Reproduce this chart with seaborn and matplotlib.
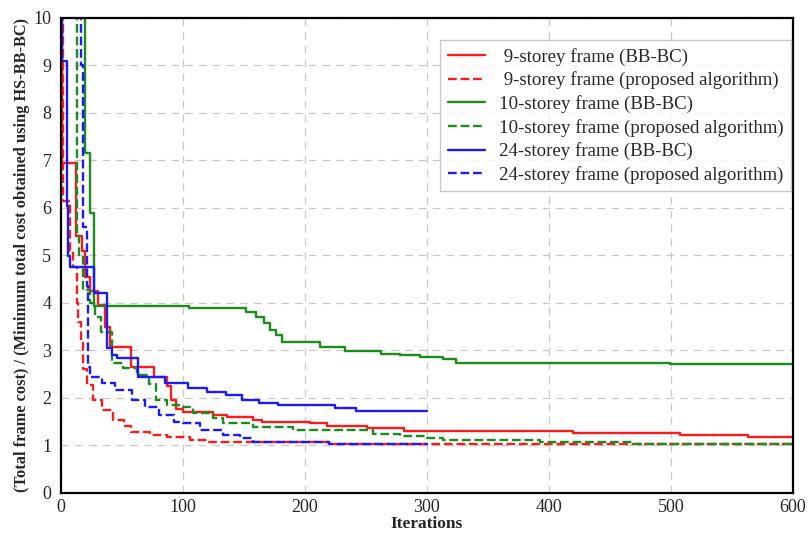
import matplotlib
matplotlib.use("Agg")
import matplotlib.pyplot as plt
import seaborn as sns
import pandas as pd

# iteration where each step starts, and the cost ratio from there on
x_9_bbbc = [0, 1, 12, 17, 20, 24, 30, 36, 40, 57, 76, 87, 90, 94, 100, 125, 136, 157, 165, 204, 218, 251, 281, 420, 507, 563, 600]
y_9_bbbc = [12, 6.95, 5.4, 5.1, 4.55, 4.25, 3.95, 3.5, 3.07, 2.65, 2.45, 2.25, 1.95, 1.76, 1.71, 1.64, 1.6, 1.54, 1.5, 1.47, 1.4, 1.37, 1.3, 1.26, 1.22, 1.18, 1.17]

x_9_prop = [0, 2, 7, 10, 13, 14, 16, 18, 21, 26, 34, 43, 52, 57, 73, 87, 106, 120, 220, 400, 600]
y_9_prop = [12, 6.15, 5.1, 4.75, 4.0, 3.6, 3.15, 2.6, 2.27, 1.96, 1.75, 1.54, 1.4, 1.28, 1.22, 1.18, 1.12, 1.07, 1.04, 1.03, 1.02]

x_10_bbbc = [0, 20, 24, 27, 105, 152, 160, 166, 171, 176, 181, 212, 233, 262, 278, 294, 313, 324, 499, 600]
y_10_bbbc = [12, 7.15, 5.9, 3.93, 3.9, 3.8, 3.7, 3.57, 3.43, 3.32, 3.18, 3.07, 2.98, 2.92, 2.9, 2.87, 2.82, 2.74, 2.72, 2.72]

x_10_prop = [0, 13, 15, 18, 24, 28, 33, 42, 51, 62, 72, 78, 87, 97, 108, 125, 133, 157, 190, 256, 278, 300, 313, 393, 470, 600]
y_10_prop = [12, 5.45, 5.0, 4.27, 4.0, 3.7, 3.38, 2.73, 2.63, 2.48, 2.3, 1.96, 1.85, 1.8, 1.68, 1.58, 1.47, 1.38, 1.33, 1.25, 1.2, 1.16, 1.12, 1.08, 1.03, 1.02]

x_24_bbbc = [0, 1, 5, 6, 7, 27, 38, 42, 46, 63, 85, 104, 120, 135, 148, 162, 178, 225, 242, 300]
y_24_bbbc = [12, 9.1, 6.05, 4.98, 4.75, 4.22, 3.05, 2.9, 2.84, 2.44, 2.31, 2.2, 2.13, 2.06, 1.96, 1.89, 1.85, 1.78, 1.72, 1.72]

x_24_prop = [0, 16, 18, 21, 22, 24, 34, 44, 58, 69, 80, 93, 100, 114, 133, 147, 157, 220, 300]
y_24_prop = [12, 9.0, 5.6, 4.35, 2.65, 2.45, 2.32, 2.17, 1.96, 1.81, 1.64, 1.5, 1.47, 1.33, 1.22, 1.16, 1.07, 1.04, 1.02]

labels = [" 9-storey frame (BB-BC)", " 9-storey frame (proposed algorithm)",
          "10-storey frame (BB-BC)", "10-storey frame (proposed algorithm)",
          "24-storey frame (BB-BC)", "24-storey frame (proposed algorithm)"]
xs = [x_9_bbbc, x_9_prop, x_10_bbbc, x_10_prop, x_24_bbbc, x_24_prop]
ys = [y_9_bbbc, y_9_prop, y_10_bbbc, y_10_prop, y_24_bbbc, y_24_prop]
colors = ["#ff1a1a", "#ff1a1a", "#1a8c1a", "#1a8c1a", "#1a1aff", "#1a1aff"]
styles = ["-", "--", "-", "--", "-", "--"]

sns.set_style("white")
plt.rcParams["font.family"] = ["Liberation Serif", "DejaVu Serif"]

fig = plt.figure(figsize=(8.11, 5.34), dpi=100)
ax = fig.add_axes([0.0752, 0.0768, 0.9026, 0.8895])

for xv, yv, lab, c, ls in zip(xs, ys, labels, colors, styles):
    df = pd.DataFrame({"Iterations": xv, "ratio": yv})
    line_kw = dict(dashes=(3, 1.6)) if ls == "--" else {}
    sns.lineplot(data=df, x="Iterations", y="ratio", ax=ax, color=c, linestyle=ls,
                 linewidth=1.7, drawstyle="steps-post", estimator=None, sort=False,
                 label=lab, **line_kw)

ax.set_xlim(0, 600)
ax.set_ylim(0, 10)
ax.set_xticks(range(0, 601, 100))
ax.set_yticks(range(0, 11))
ax.grid(True, color="#c8c8c8", linestyle=(0, (6, 5)), linewidth=0.9)
ax.set_axisbelow(True)
for sp in ax.spines.values():
    sp.set_color("black")
    sp.set_linewidth(1.6)
ax.tick_params(axis="both", length=0, labelsize=13)
ax.tick_params(axis="x", pad=4)
ax.tick_params(axis="y", pad=7)

ax.set_xlabel("Iterations", fontsize=12.5, fontweight="bold", labelpad=0)
ax.set_ylabel("(Total frame cost) / (Minimum total cost obtained using HS-BB-BC)",
              fontsize=11.8, fontweight="bold", labelpad=2)

leg = ax.legend(loc="upper right", bbox_to_anchor=(0.997, 0.953), fontsize=13.6,
                frameon=True, fancybox=False, edgecolor="#bbbbbb", handlelength=2.0,
                borderpad=0.4, labelspacing=0.3, handletextpad=0.7, borderaxespad=0)
leg.get_frame().set_linewidth(1.0)

fig.savefig("out.png", dpi=100)
